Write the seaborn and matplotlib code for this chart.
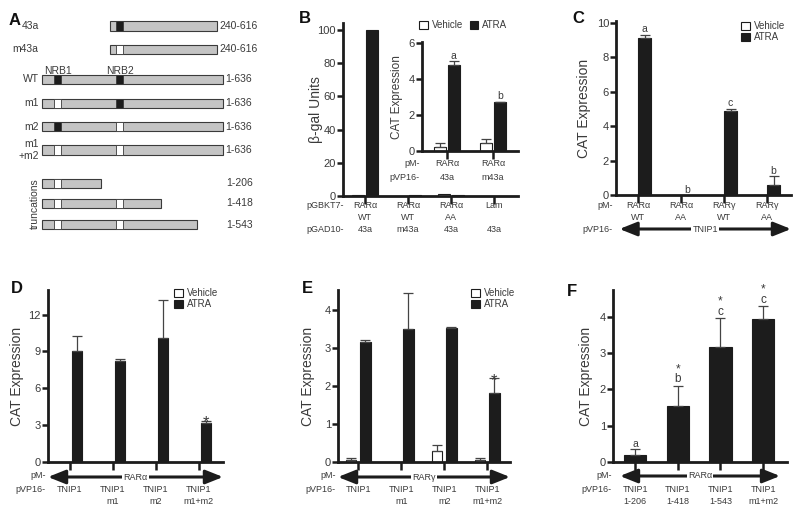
"""Multi-panel TNIP1 / RAR interaction figure (panels A-F)"""

import matplotlib
matplotlib.use("Agg")
import matplotlib.pyplot as plt
import matplotlib.transforms as mtransforms
from matplotlib.patches import Patch
import pandas as pd
import seaborn as sns

sns.set_theme(style="white")
plt.rcParams["font.family"] = ["Liberation Sans", "DejaVu Sans"]

# ---------------- data ----------------
# A: TNIP1 constructs (amino-acid ranges, NRB motif state)
a_names = ["43a", "m43a", "WT", "m1", "m2", "m1\n+m2", "", "", ""]
a_start = [240, 240, 1, 1, 1, 1, 1, 1, 1]
a_end = [616, 616, 636, 636, 636, 636, 206, 418, 543]
a_nrb1 = [None, None, "wt", "mut", "wt", "mut", "mut", "mut", "mut"]
a_nrb2 = ["wt", "mut", "wt", "wt", "mut", "mut", None, "mut", "mut"]
nrb1_span = (42, 68)
nrb2_span = (260, 286)

# B: yeast two-hybrid beta-gal units
b_row1 = ["RARα", "RARα", "RARα", "Lam"]
b_row2 = ["WT", "WT", "AA", ""]
b_row3 = ["43a", "m43a", "43a", "43a"]
b_vehicle = [0.8, 0.3, 1.3, 0.2]
b_atra = [100, 0.6, 0.6, 0.3]

# B inset: CAT expression
bi_row1 = ["RARα", "RARα"]
bi_row2 = ["43a", "m43a"]
bi_vehicle = [0.25, 0.45]
bi_vehicle_err = [0.17, 0.2]
bi_atra = [4.8, 2.7]
bi_atra_err = [0.2, 0.05]
bi_sig = ["a", "b"]

# C
c_row1 = ["RARα", "RARα", "RARγ", "RARγ"]
c_row2 = ["WT", "AA", "WT", "AA"]
c_vehicle = [0, 0, 0, 0]
c_atra = [9.1, 0, 4.85, 0.6]
c_atra_err = [0.2, None, 0.15, 0.5]
c_sig = ["a", "b", "c", "b"]

# D
d_row1 = ["TNIP1", "TNIP1", "TNIP1", "TNIP1"]
d_row2 = ["", "m1", "m2", "m1+m2"]
d_vehicle = [0, 0, 0, 0]
d_atra = [9.0, 8.2, 10.1, 3.2]
d_atra_err = [1.25, 0.15, 3.1, 0.12]
d_sig = ["", "", "", "*"]

# E
e_row1 = ["TNIP1", "TNIP1", "TNIP1", "TNIP1"]
e_row2 = ["", "m1", "m2", "m1+m2"]
e_vehicle = [0.06, 0, 0.28, 0.05]
e_vehicle_err = [0.05, None, 0.17, 0.05]
e_atra = [3.15, 3.5, 3.52, 1.83]
e_atra_err = [0.07, 0.95, 0.03, 0.37]
e_sig = ["", "", "", "*"]

# F
f_row1 = ["TNIP1", "TNIP1", "TNIP1", "TNIP1"]
f_row2 = ["1-206", "1-418", "1-543", "m1+m2"]
f_atra = [0.18, 1.55, 3.18, 3.95]
f_atra_err = [0.17, 0.55, 0.79, 0.35]
f_sig = ["a", "*\nb", "*\nc", "*\nc"]

# ---------------- style ----------------
W, H = 800, 514
DARK = "#1c1c1c"
TXT = "#3a3a3a"
GREY = "#c4c4c4"
SMALL = 6.5

fig = plt.figure(figsize=(8, 5.14), dpi=100)


def fy(y):
    return 1 - y / H


def px_axes(left, top, right, bottom):
    return fig.add_axes([left / W, fy(bottom), (right - left) / W, (bottom - top) / H])


def style_axes(ax, n, xlim, ylim, yticks, ylabel, label_off, ylabel_size=10):
    ax.set_xlim(*xlim)
    ax.set_ylim(*ylim)
    ax.set_xticks(range(n))
    ax.set_xticklabels([])
    ax.set_yticks(yticks)
    ax.set_xlabel("")
    ax.set_ylabel(ylabel, fontsize=ylabel_size, color=TXT)
    w_px = ax.get_position().width * W
    ax.yaxis.set_label_coords(label_off / w_px, 0.5)
    for s in ["top", "right"]:
        ax.spines[s].set_visible(False)
    for s in ["left", "bottom"]:
        ax.spines[s].set_linewidth(2.0)
        ax.spines[s].set_color(DARK)
    ax.tick_params(axis="y", left=True, length=4, width=1.8, pad=1,
                   labelsize=8, color=DARK, labelcolor=TXT)
    ax.tick_params(axis="x", bottom=True, length=6, width=1.8, pad=0, color=DARK)
    ax.patch.set_alpha(0)
    ax.grid(False)


def mark(ax, x, top, s):
    """significance letter and/or star above an error bar"""
    if not s:
        return
    if s == "*":
        ax.annotate("*", xy=(x, top), xytext=(0, -4.5), textcoords="offset points",
                    ha="center", va="baseline", fontsize=12, color=TXT)
    elif "*" in s:
        ax.annotate(s, xy=(x, top), xytext=(0, 0.3), textcoords="offset points",
                    ha="center", va="bottom", fontsize=8.5, color=TXT, linespacing=0.78)
    else:
        ax.annotate(s, xy=(x, top), xytext=(0, 0.3), textcoords="offset points",
                    ha="center", va="bottom", fontsize=7.5, color=TXT)


def err(ax, x, v, e):
    ax.errorbar(x, v, yerr=[[0], [e]], fmt="none", ecolor="#444444",
                elinewidth=0.9, capsize=3.5, capthick=0.9)


def bars(ax, keys, veh, atra, veh_err, atra_err, sig, width, gap):
    n = len(keys)
    df = pd.DataFrame({
        "group": keys * 2,
        "treatment": ["Vehicle"] * n + ["ATRA"] * n,
        "value": list(veh) + list(atra),
    })
    sns.barplot(data=df, x="group", y="value", hue="treatment", order=keys,
                hue_order=["Vehicle", "ATRA"],
                palette={"Vehicle": "white", "ATRA": DARK},
                edgecolor=DARK, linewidth=0.8, width=width, gap=gap,
                errorbar=None, legend=False, ax=ax)
    conts = list(ax.containers[:2])
    for cont, vals, errs, labels in zip(conts, [veh, atra], [veh_err, atra_err],
                                        [None, sig]):
        for i, (bar, v) in enumerate(zip(cont, vals)):
            x = bar.get_x() + bar.get_width() / 2
            e = errs[i] if errs is not None else None
            top = v
            if e is not None:
                err(ax, x, v, e)
                top = v + e
            if labels is not None:
                mark(ax, x, top, labels[i])


def row_text(ax, labels, y_px, size=SMALL):
    tr = mtransforms.blended_transform_factory(ax.transData, fig.transFigure)
    for i, s in enumerate(labels):
        ax.text(i, fy(y_px), s, transform=tr, ha="center", va="center",
                fontsize=size, color=TXT)


def head_text(x_px, y_px, s, size=SMALL):
    fig.text(x_px / W, fy(y_px), s, ha="right", va="center", fontsize=size, color=TXT)


def span_arrow(ax, y_px, label, x0=0.0, x1=1.0):
    tr = mtransforms.blended_transform_factory(ax.transAxes, fig.transFigure)
    ax.annotate("", xy=(x1, fy(y_px)), xytext=(x0, fy(y_px)), xycoords=tr, textcoords=tr,
                arrowprops=dict(arrowstyle="<|-|>,head_length=1.05,head_width=0.42",
                                lw=2.2, color=DARK, shrinkA=0, shrinkB=0,
                                mutation_scale=10),
                annotation_clip=False)
    ax.text((x0 + x1) / 2, fy(y_px), label, transform=tr, ha="center", va="center",
            fontsize=SMALL, color=TXT, zorder=6,
            bbox=dict(fc="white", ec="none", pad=1.0))


def legend_at(x_px, y_px, ncol=1):
    handles = [Patch(fc="white", ec=DARK, lw=0.8, label="Vehicle"),
               Patch(fc=DARK, ec=DARK, lw=0.8, label="ATRA")]
    leg = fig.legend(handles=handles, loc="upper left", bbox_to_anchor=(x_px / W, fy(y_px)),
                     frameon=False, fontsize=7, ncol=ncol, handlelength=0.9,
                     handleheight=0.9, handletextpad=0.4, borderpad=0, labelspacing=0.15,
                     columnspacing=0.7, borderaxespad=0)
    for t in leg.get_texts():
        t.set_color(TXT)


def panel_letter(x_px, y_px, s):
    fig.text(x_px / W, fy(y_px), s, fontsize=12, fontweight="bold", color="#111111",
             ha="left", va="baseline")


# ---------------- A: construct diagrams ----------------
ax_a = px_axes(0, 0, 265, 240)
ax_a.set_xlim(-147.6, 783.5)
ax_a.set_ylim(240, 0)
ax_a.axis("off")
row_y = [26, 49.5, 79.5, 103.5, 126.5, 150, 183.5, 203.5, 224.5]
bar_h = 9.5
for y, name, s, e, n1, n2 in zip(row_y, a_names, a_start, a_end, a_nrb1, a_nrb2):
    ax_a.barh(y, e - s, left=s, height=bar_h, color=GREY, edgecolor="#3a3a3a", lw=0.8)
    for state, span in [(n1, nrb1_span), (n2, nrb2_span)]:
        if state is None:
            continue
        ax_a.barh(y, span[1] - span[0], left=span[0], height=bar_h,
                  color=DARK if state == "wt" else "white", edgecolor="#3a3a3a", lw=0.6)
    if name:
        ax_a.text(-12, y, name, ha="right", va="center", fontsize=7.5, color=TXT,
                  linespacing=1.25)
    lab_x = e + 8 if e > 600 else 646
    ax_a.text(lab_x, y, f"{s if s > 1 else 1}-{e}", ha="left", va="center",
              fontsize=7.5, color=TXT)
ax_a.text(sum(nrb1_span) / 2, 71, "NRB1", ha="center", va="center", fontsize=7.5, color=TXT)
ax_a.text(sum(nrb2_span) / 2, 71, "NRB2", ha="center", va="center", fontsize=7.5, color=TXT)
ax_a.text(-25, 204, "truncations", rotation=90, ha="center", va="center",
          fontsize=7.5, color=TXT)
panel_letter(9, 25, "A")

# ---------------- B: beta-gal ----------------
ax_b = px_axes(343, 22.7, 518, 196)
keys_b = [f"{a} {b} {c}" for a, b, c in zip(b_row1, b_row2, b_row3)]
bars(ax_b, keys_b, b_vehicle, b_atra, None, None, None, width=0.66, gap=0.2)
style_axes(ax_b, 4, (-0.51, 3.56), (0, 104.4), range(0, 101, 20), "β-gal Units", -20)
row_text(ax_b, b_row1, 206)
row_text(ax_b, b_row2, 218)
row_text(ax_b, b_row3, 230)
head_text(344, 206, "pGBKT7-")
head_text(344, 230, "pGAD10-")
panel_letter(299, 23, "B")

# inset
ax_bi = px_axes(422, 42.3, 518, 151)
keys_bi = [f"{a} {b}" for a, b in zip(bi_row1, bi_row2)]
bars(ax_bi, keys_bi, bi_vehicle, bi_atra, bi_vehicle_err, bi_atra_err, bi_sig,
     width=0.6, gap=0.1)
style_axes(ax_bi, 2, (-0.54, 1.54), (0, 6.05), [0, 2, 4, 6], "CAT Expression", -19,
           ylabel_size=8.5)
row_text(ax_bi, bi_row1, 163)
row_text(ax_bi, bi_row2, 178)
head_text(420, 163, "pM-")
head_text(420, 178, "pVP16-")
legend_at(419, 20, ncol=2)

# ---------------- C ----------------
ax_c = px_axes(616, 21, 791, 195)
keys_c = [f"{a} {b}" for a, b in zip(c_row1, c_row2)]
bars(ax_c, keys_c, c_vehicle, c_atra, None, c_atra_err, c_sig, width=0.62, gap=0.05)
style_axes(ax_c, 4, (-0.51, 3.56), (0, 10.1), [0, 2, 4, 6, 8, 10], "CAT Expression", -25)
row_text(ax_c, c_row1, 205)
row_text(ax_c, c_row2, 218)
head_text(613, 205, "pM-")
head_text(613, 229, "pVP16-")
span_arrow(ax_c, 229, "TNIP1", 0.02, 1.0)
legend_at(741, 21)
panel_letter(572, 23, "C")

# ---------------- D ----------------
ax_d = px_axes(48, 290, 223, 462)
keys_d = [f"{a} {b}" for a, b in zip(d_row1, d_row2)]
bars(ax_d, keys_d, d_vehicle, d_atra, None, d_atra_err, d_sig, width=0.66, gap=0.25)
style_axes(ax_d, 4, (-0.51, 3.56), (0, 14), [0, 3, 6, 9, 12], "CAT Expression", -24)
row_text(ax_d, d_row1, 490)
row_text(ax_d, d_row2, 502)
head_text(46, 475, "pM-")
head_text(46, 490, "pVP16-")
span_arrow(ax_d, 477, "RARα")
legend_at(174, 288)
panel_letter(11, 293, "D")

# ---------------- E ----------------
ax_e = px_axes(338, 290, 510, 462)
keys_e = [f"{a} {b}" for a, b in zip(e_row1, e_row2)]
bars(ax_e, keys_e, e_vehicle, e_atra, e_vehicle_err, e_atra_err, e_sig, width=0.66, gap=0.25)
style_axes(ax_e, 4, (-0.47, 3.53), (0, 4.53), [0, 1, 2, 3, 4], "CAT Expression", -23)
row_text(ax_e, e_row1, 490)
row_text(ax_e, e_row2, 502)
head_text(336, 475, "pM-")
head_text(336, 490, "pVP16-")
span_arrow(ax_e, 477, "RARγ")
legend_at(471, 288)
panel_letter(302, 293, "E")

# ---------------- F ----------------
ax_f = px_axes(613, 290, 787, 462)
keys_f = [f"{a} {b}" for a, b in zip(f_row1, f_row2)]
df_f = pd.DataFrame({"group": keys_f, "value": f_atra})
sns.barplot(data=df_f, x="group", y="value", order=keys_f, color=DARK, edgecolor=DARK,
            linewidth=0.8, width=0.52, errorbar=None, ax=ax_f)
for bar, v, e, s in zip(ax_f.containers[0], f_atra, f_atra_err, f_sig):
    x = bar.get_x() + bar.get_width() / 2
    err(ax_f, x, v, e)
    mark(ax_f, x, v + e, s)
style_axes(ax_f, 4, (-0.52, 3.56), (0, 4.74), [0, 1, 2, 3, 4], "CAT Expression", -20)
row_text(ax_f, f_row1, 490)
row_text(ax_f, f_row2, 502)
head_text(612, 476, "pM-")
head_text(612, 490, "pVP16-")
span_arrow(ax_f, 476, "RARα", 0.04, 0.96)
panel_letter(567, 296, "F")

fig.savefig("out.png", dpi=100)
